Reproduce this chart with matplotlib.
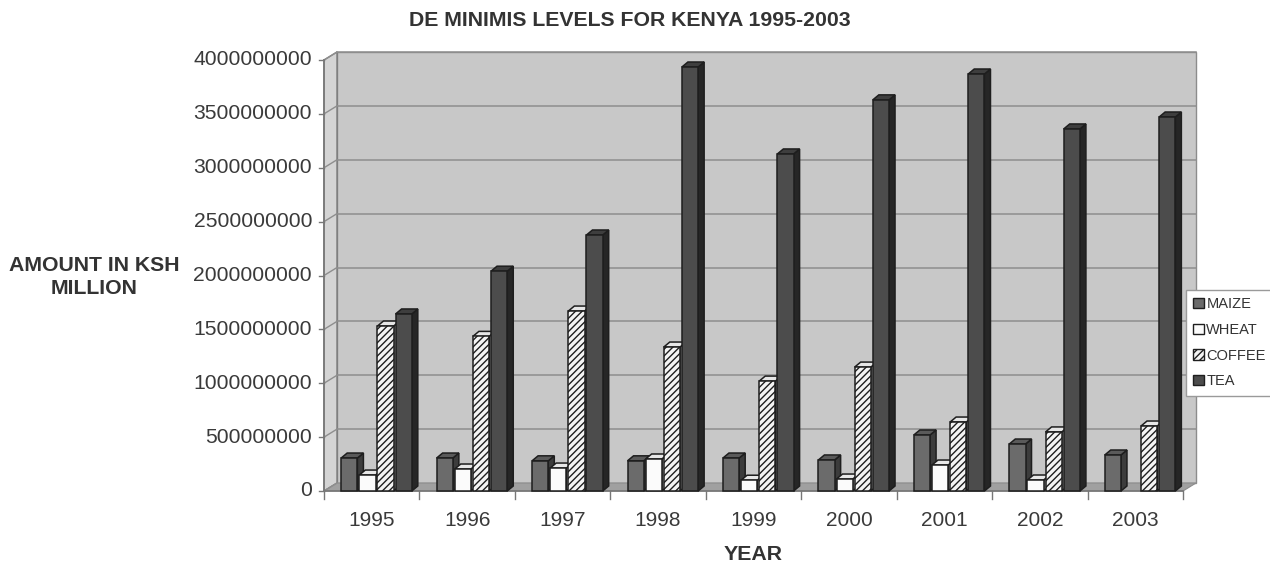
import matplotlib.pyplot as plt
import numpy as np
from matplotlib.patches import Polygon, Patch

plt.rcParams["font.family"] = ["Liberation Sans", "DejaVu Sans"]

# De minimis support, KSh, by year and crop
years = ["1995", "1996", "1997", "1998", "1999", "2000", "2001", "2002", "2003"]
maize = [306e6, 306e6, 280e6, 280e6, 306e6, 288e6, 520e6, 436e6, 334e6]
wheat = [148e6, 204e6, 213e6, 297e6, 100e6, 111e6, 241e6, 102e6, 0]
coffee = [1531e6, 1435e6, 1670e6, 1336e6, 1020e6, 1150e6, 640e6, 548e6, 603e6]
tea = [1643e6, 2040e6, 2376e6, 3935e6, 3128e6, 3630e6, 3870e6, 3360e6, 3471e6]
yticks = [0, 500e6, 1000e6, 1500e6, 2000e6, 2500e6, 3000e6, 3500e6, 4000e6]

series = [
    ("MAIZE", maize, dict(front="#6b6b6b", top="#5a5a5a", side="#3c3c3c", hatch=None)),
    ("WHEAT", wheat, dict(front="#fbfbfb", top="#e8e8e8", side="#b8b8b8", hatch=None)),
    ("COFFEE", coffee, dict(front="#f4f4f4", top="#e6e6e6", side="#b0b0b0", hatch="/////")),
    ("TEA", tea, dict(front="#4c4c4c", top="#3e3e3e", side="#262626", hatch=None)),
]

W, H, DPI = 1270, 568, 100
fig = plt.figure(figsize=(W / DPI, H / DPI), dpi=DPI)
ax_l, ax_r, ax_t, ax_b = 324, 1183, 60, 491
ax = fig.add_axes([ax_l / W, 1 - ax_b / H, (ax_r - ax_l) / W, (ax_b - ax_t) / H])
ncat = len(years)
ymax = 4e9
ax.set_xlim(0, ncat)
ax.set_ylim(0, ymax)

# pixel -> data conversion for the fake 3D depth
sx = ncat / (ax_r - ax_l)
sy = ymax / (ax_b - ax_t)
wdx, wdy = 13 * sx, 8 * sy      # wall depth
bdx, bdy = 6 * sx, 5 * sy       # bar depth

ax.axis("off")

# walls and floor
back = Polygon([(wdx, wdy), (ncat + wdx, wdy), (ncat + wdx, ymax + wdy), (wdx, ymax + wdy)],
               closed=True, facecolor="#c8c8c8", edgecolor="#8c8c8c", lw=1.0,
               clip_on=False, zorder=0)
ax.add_patch(back)
left = Polygon([(0, 0), (wdx, wdy), (wdx, ymax + wdy), (0, ymax)], closed=True,
               facecolor="#d4d4d4", edgecolor="#7a7a7a", lw=1.0, clip_on=False, zorder=0.5)
ax.add_patch(left)
floor = Polygon([(0, 0), (ncat, 0), (ncat + wdx, wdy), (wdx, wdy)], closed=True,
                facecolor="#a0a0a0", edgecolor="#8c8c8c", lw=0.8, clip_on=False, zorder=0.6)
ax.add_patch(floor)

for v in yticks[1:]:
    ax.plot([wdx, ncat + wdx], [v + wdy, v + wdy], color="#8e8e8e", lw=1.1,
            clip_on=False, zorder=0.7)
for v in yticks:
    ax.plot([0, wdx], [v, v + wdy], color="#8e8e8e", lw=1.0, clip_on=False, zorder=0.7)
    ax.plot([-5 * sx, 0], [v, v], color="#777777", lw=1.0, clip_on=False, zorder=0.7)
    ax.text(-12 * sx, v, "%d" % v, ha="right", va="center", fontsize=15.2,
            color="#3a3a3a")

# axis lines
ax.plot([0, 0], [0, ymax], color="#777777", lw=1.2, clip_on=False, zorder=0.8)
ax.plot([0, ncat], [0, 0], color="#777777", lw=1.2, clip_on=False, zorder=0.8)
for i in range(ncat + 1):
    ax.plot([i, i], [0, -8 * sy], color="#777777", lw=1.0, clip_on=False)
for i, yr in enumerate(years):
    ax.text(i + 0.5, -30 * sy, yr, ha="center", va="center", fontsize=15,
            color="#3a3a3a")


def bar3d(x0, w, h, st, z):
    if h <= 0:
        return
    ec = "#1e1e1e"
    front = Polygon([(x0, 0), (x0 + w, 0), (x0 + w, h), (x0, h)], closed=True,
                    facecolor=st["front"], edgecolor=ec, lw=1.1, zorder=z,
                    hatch=st["hatch"])
    side = Polygon([(x0 + w, 0), (x0 + w + bdx, bdy), (x0 + w + bdx, h + bdy), (x0 + w, h)],
                   closed=True, facecolor=st["side"], edgecolor=ec, lw=1.1, zorder=z)
    top = Polygon([(x0, h), (x0 + w, h), (x0 + w + bdx, h + bdy), (x0 + bdx, h + bdy)],
                  closed=True, facecolor=st["top"], edgecolor=ec, lw=1.1, zorder=z)
    for p in (side, top, front):
        p.set_clip_on(False)
        ax.add_patch(p)


plt.rcParams["hatch.color"] = "#8a8a8a"
plt.rcParams["hatch.linewidth"] = 1.0
bw = 0.17
offs = [0.18, 0.37, 0.56, 0.75]
z = 2
for i in range(ncat):
    for k, (name, vals, st) in enumerate(series):
        bar3d(i + offs[k], bw, vals[i], st, z)
        z += 0.01

fig.text(630 / W, 1 - 21 / H, "DE MINIMIS LEVELS FOR KENYA 1995-2003", ha="center",
         va="center", fontsize=15.3, fontweight="bold", color="#333333")
fig.text(94 / W, 1 - 277 / H, "AMOUNT IN KSH\nMILLION", ha="center", va="center",
         fontsize=15.3, fontweight="bold", color="#333333", linespacing=1.25)
fig.text(753 / W, 1 - 555 / H, "YEAR", ha="center", va="center", fontsize=15.3,
         fontweight="bold", color="#333333")

handles = [Patch(facecolor=st["front"], edgecolor="#1e1e1e", hatch=st["hatch"], label=n)
           for n, _, st in series]
leg = fig.legend(handles=handles, loc="upper left",
                 bbox_to_anchor=(1186 / W, 1 - 290 / H), fontsize=10.5,
                 handlelength=0.7, handleheight=0.7, handletextpad=0.2,
                 labelspacing=0.8, borderpad=0.5, borderaxespad=0, fancybox=False,
                 framealpha=1, edgecolor="#9a9a9a")
for t in leg.get_texts():
    t.set_color("#333333")

fig.savefig("out.png", dpi=DPI)
